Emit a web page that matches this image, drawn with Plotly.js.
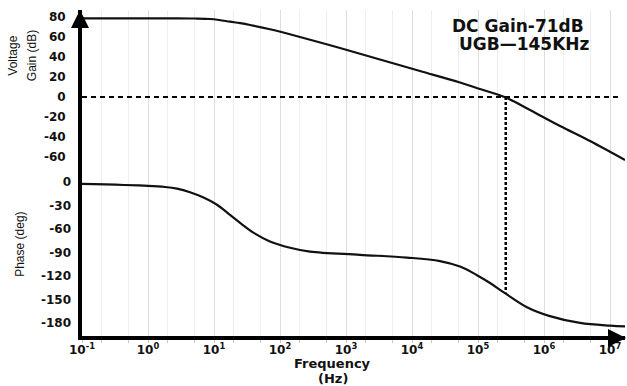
<!DOCTYPE html>
<html>
<head>
<meta charset="utf-8">
<script src="https://cdn.plot.ly/plotly-3.0.1.min.js"></script>
<style>html,body{margin:0;padding:0;background:#fff;}#chart{width:627px;height:386px;}</style>
</head>
<body>
<div id="chart"></div>
<script>
// ---- data ----
const freqGain = [0.1, 2.75, 5, 8.7, 12, 17.5, 25, 35.1, 70.4, 201, 811, 3270, 13200, 53300, 107000, 263000, 614000, 1.75e6, 4.97e6, 1.69e7];
const gainDb   = [78.7, 78.7, 78.5, 78, 77, 75.3, 73.8, 72, 67.7, 60, 49, 37.5, 26, 14.5, 8, -0.5, -13, -29, -44, -63];

const freqPhase = [0.1, 1, 1.81, 2.75, 4.33, 6.81, 11.1, 17.5, 26.5, 41.8, 70.4, 142, 285, 1630, 8390, 26500, 53300, 96600, 152000, 256000, 552000, 1.19e6, 3.51e6, 1e7, 1.69e7];
const phaseDeg  = [-2.5, -5, -6.4, -8.5, -13, -19.5, -29, -42, -54, -66, -76, -84, -89, -93, -96.5, -101, -108, -119, -129, -142, -160, -171, -180, -183.5, -184.5];

const ugbFreq = 2.63e5;
const ugbPhase = -141;
const zeroDbSpan = [0.1, 1.4e7];

const xTickVals = [0.1, 1, 10, 100, 1e3, 1e4, 1e5, 1e6, 1e7];
const xTickText = ['10<sup>-1</sup>','10<sup>0</sup>','10<sup>1</sup>','10<sup>2</sup>','10<sup>3</sup>','10<sup>4</sup>','10<sup>5</sup>','10<sup>6</sup>','10<sup>7</sup>'];
const gainTicks = [80, 60, 40, 20, 0, -20, -40, -60];
const phaseTicks = [0, -30, -60, -90, -120, -150, -180];

// ---- axis ranges ----
const gainRange = [-239, 87];
const phaseRange = [-196.7, 219.7];
// gain-axis value sitting at the UGB phase level (same vertical position)
const frac = (ugbPhase - phaseRange[0]) / (phaseRange[1] - phaseRange[0]);
const ugbGainLevel = gainRange[0] + frac * (gainRange[1] - gainRange[0]);

const ink = '#111';
const boldFam = 'DejaVu Sans, Liberation Sans, Arial';
const tickFont = {family: boldFam, size: 12, color: '#111', weight: 'bold'};

const traces = [
  {x: freqGain, y: gainDb, yaxis: 'y', mode: 'lines', line: {color: ink, width: 2.2, shape: 'spline', smoothing: 1}, hoverinfo: 'skip'},
  {x: freqPhase, y: phaseDeg, yaxis: 'y2', mode: 'lines', line: {color: ink, width: 2.2, shape: 'spline', smoothing: 1}, hoverinfo: 'skip'},
  {x: zeroDbSpan, y: [0, 0], yaxis: 'y', mode: 'lines', line: {color: '#000', width: 2, dash: '5px,4px'}, hoverinfo: 'skip'},
  {x: [ugbFreq, ugbFreq], y: [0, ugbGainLevel], yaxis: 'y', mode: 'lines', line: {color: '#000', width: 2.5, dash: '3px,2px'}, hoverinfo: 'skip'}
];

const xr = [-1, 7.227];

const layout = {
  width: 627, height: 386,
  margin: {l: 82, r: 2, t: 10, b: 50},
  paper_bgcolor: '#fff', plot_bgcolor: '#fff',
  showlegend: false,
  xaxis: {
    type: 'log', range: xr,
    tickvals: xTickVals, ticktext: xTickText,
    tickfont: tickFont, ticks: '',
    showline: true, linewidth: 4, linecolor: '#000',
    showgrid: true, gridcolor: '#dedede', gridwidth: 1,
    minor: {showgrid: true, gridcolor: '#eeeeee', ticks: 'outside', ticklen: 3, tickcolor: '#c8c8c8'},
    zeroline: false
  },
  yaxis: {
    range: gainRange, tickvals: gainTicks, ticktext: gainTicks.map(String),
    tickfont: tickFont, ticks: '', ticklabelstandoff: 10,
    showline: true, linewidth: 4, linecolor: '#000',
    showgrid: false, zeroline: false
  },
  yaxis2: {
    range: phaseRange, overlaying: 'y', side: 'left',
    tickvals: phaseTicks, ticktext: phaseTicks.map(String),
    tickfont: tickFont, ticks: '', ticklabelstandoff: 10,
    showline: false, showgrid: false, zeroline: false
  },
  yaxis3: {
    range: gainRange, overlaying: 'y', side: 'left', dtick: 20,
    showticklabels: false, ticks: '', showline: false, zeroline: false,
    showgrid: true, gridcolor: '#e2e2e2',
    minor: {showgrid: true, gridcolor: '#f0f0f0', dtick: 5}
  },
  annotations: [
    {xref: 'paper', yref: 'paper', x: 0.803, y: 0.95, xanchor: 'center', yanchor: 'middle', showarrow: false,
     text: 'DC Gain-71dB', font: {family: boldFam, size: 17, color: '#111', weight: 'bold'}},
    {xref: 'paper', yref: 'paper', x: 0.814, y: 0.895, xanchor: 'center', yanchor: 'middle', showarrow: false,
     text: 'UGB\u2014145KHz', font: {family: boldFam, size: 17, color: '#111', weight: 'bold'}},
    {xref: 'paper', yref: 'paper', x: 0.462, y: -0.083, xanchor: 'center', yanchor: 'middle', showarrow: false,
     text: 'Frequency', font: {family: boldFam, size: 13, color: '#111', weight: 'bold'}},
    {xref: 'paper', yref: 'paper', x: 0.462, y: -0.129, xanchor: 'center', yanchor: 'middle', showarrow: false,
     text: '(Hz)', font: {family: boldFam, size: 13, color: '#111', weight: 'bold'}},
    {xref: 'paper', yref: 'paper', x: -0.127, y: 0.86, xanchor: 'center', yanchor: 'middle', showarrow: false, textangle: -90,
     text: 'Voltage', font: {family: 'Liberation Sans Narrow, Liberation Sans, Arial', size: 12, color: '#111'}},
    {xref: 'paper', yref: 'paper', x: -0.093, y: 0.86, xanchor: 'center', yanchor: 'middle', showarrow: false, textangle: -90,
     text: 'Gain (dB)', font: {family: 'Liberation Sans Narrow, Liberation Sans, Arial', size: 12, color: '#111'}},
    {xref: 'paper', yref: 'paper', x: -0.114, y: 0.28, xanchor: 'center', yanchor: 'middle', showarrow: false, textangle: -90,
     text: 'Phase (deg)', font: {family: 'Liberation Sans Narrow, Liberation Sans, Arial', size: 12, color: '#111'}},
    // arrow heads on the axes
    {xref: 'paper', yref: 'paper', x: -0.0037, y: 1.0, ax: 0, ay: 18, showarrow: true, arrowhead: 2, arrowsize: 0.9, arrowwidth: 4, arrowcolor: '#000', text: ''},
    {xref: 'paper', yref: 'paper', x: 1.003, y: -0.006, ax: -18, ay: 0, showarrow: true, arrowhead: 2, arrowsize: 0.9, arrowwidth: 4, arrowcolor: '#000', text: ''}
  ]
};

Plotly.newPlot('chart', traces, layout, {staticPlot: true, displayModeBar: false});
</script>
</body>
</html>
